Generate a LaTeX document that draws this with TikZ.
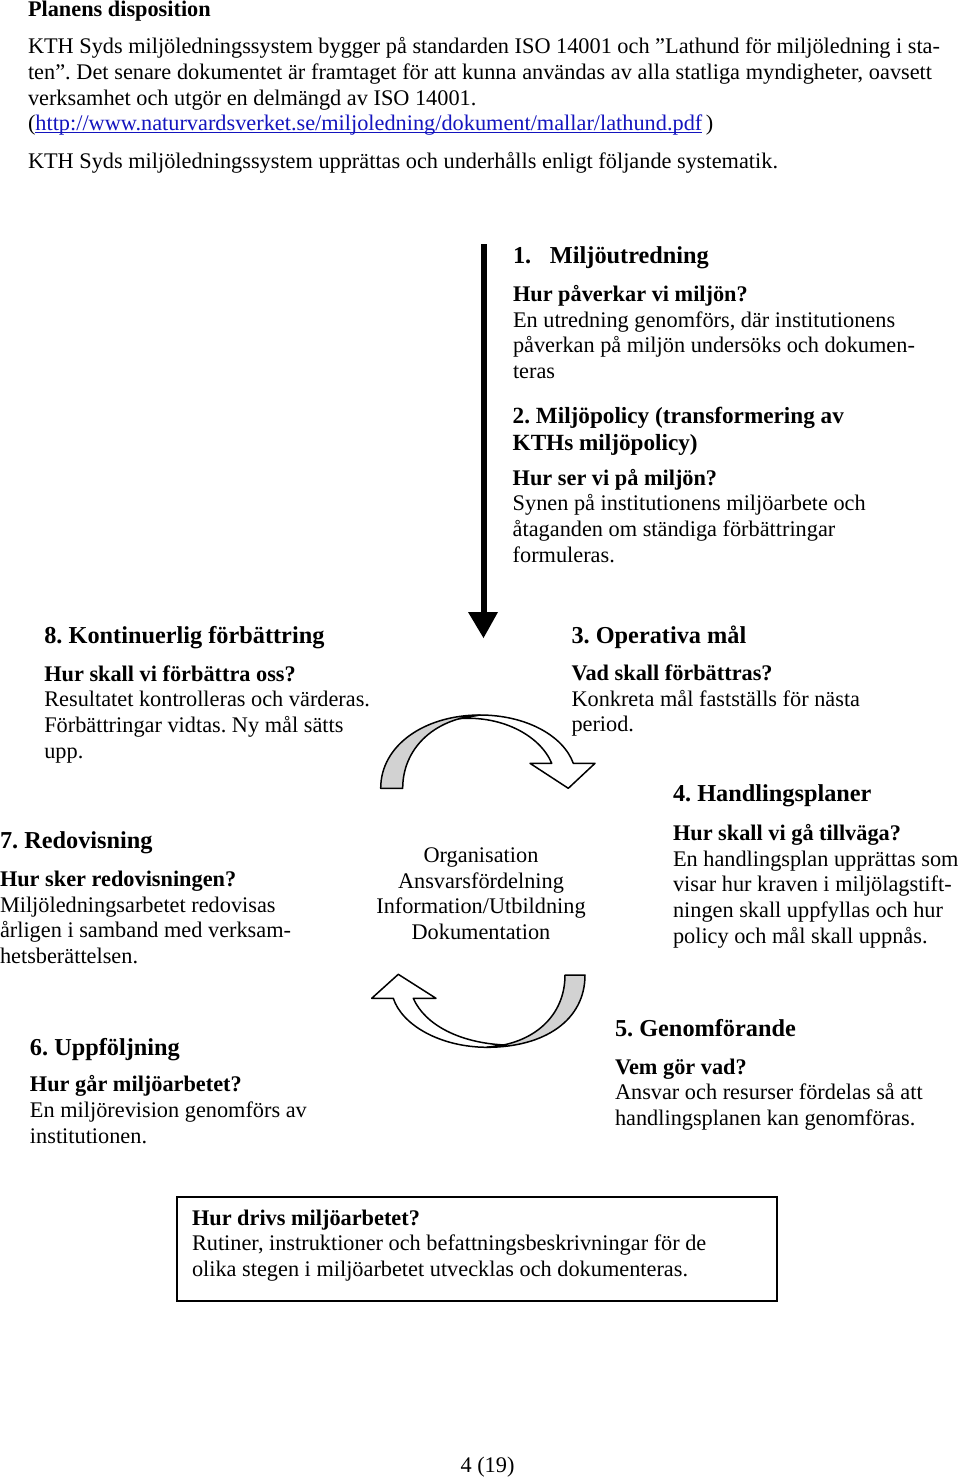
\documentclass[tikz,border=0pt]{standalone}
\usepackage{fontspec}
\setmainfont{Liberation Serif}
\frenchspacing
\definecolor{linkblue}{RGB}{20,20,190}
\definecolor{arrgray}{RGB}{210,210,210}
\newcommand\bodyfont{\fontsize{11.15pt}{12.85pt}\selectfont\frenchspacing}
\newcommand\headfont{\fontsize{12.15pt}{13.35pt}\selectfont\bfseries\frenchspacing}
\newcommand\headfontb{\fontsize{11.6pt}{13.35pt}\selectfont\bfseries\frenchspacing}
\newcommand\blk[1]{\vtop{\halign{##\hfil\cr#1\crcr}}}
\newcommand\cblk[1]{\vtop{\halign{\hfil##\hfil\cr#1\crcr}}}
\newcommand\ulink[1]{\setbox0\hbox{#1}\rlap{\rule[-1.3pt]{\wd0}{0.5pt}}\box0}
\begin{document}
\begin{tikzpicture}[x=0.5pt,y=-0.5pt,
  txt/.style={anchor=base west,inner sep=0pt,outer sep=0pt,font=\bodyfont},
  head/.style={txt,font=\headfont},
  outl/.style={draw=black,line width=0.75pt,line join=round}]
\path[use as bounding box,fill=white] (0,0) rectangle (960,1479);

% intro
\node[txt,font=\bodyfont\bfseries] (title) at (28,16.7) {Planens disposition};
\node[txt] (p1) at (28,53.3) {\hbox to 456pt{KTH Syds miljöledningssystem bygger på standarden ISO 14001 och ”Lathund för miljöledning i sta-}};
\node[txt] (p2) at (28,79.5) {\hbox to 452pt{ten”. Det senare dokumentet är framtaget för att kunna användas av alla statliga myndigheter, oavsett}};
\node[txt] (p3) at (28,105) {verksamhet och utgör en delmängd av ISO 14001.};
\node[txt] (p4) at (28,130.5) {(\textcolor{linkblue}{\ulink{http://www.naturvardsverket.se/miljoledning/dokument/mallar/lathund.pdf}}\,)};
\node[txt] (p5) at (28,168.5) {KTH Syds miljöledningssystem upprättas och underhålls enligt följande systematik.};

% vertical arrow
\fill[black] (480.5,244) rectangle (487,613);
\fill[black] (468,612) -- (498,612) -- (483.5,638) -- cycle;

% step 1
\node[head] (h1) at (513,263.3) {\makebox[18.5pt][l]{1.}Miljöutredning};
\node[txt] (b1) at (513,301.5) {\blk{\textbf{Hur påverkar vi miljön?}\cr En utredning genomförs, där institutionens\cr påverkan på miljön undersöks och dokumen-\cr teras}};
% step 2
\node[head,font=\headfontb] (h2) at (512.7,423.3) {\blk{2. Miljöpolicy (transformering av\cr KTHs miljöpolicy)}};
\node[txt] (b2) at (512.7,485) {\blk{\textbf{Hur ser vi på miljön?}\cr Synen på institutionens miljöarbete och\cr åtaganden om ständiga förbättringar\cr formuleras.}};
% step 3
\node[head] (h3) at (571.5,643.3) {3. Operativa mål};
\node[txt] (b3) at (571.5,680.5) {\blk{\textbf{Vad skall förbättras?}\cr Konkreta mål fastställs för nästa\cr period.}};
% step 8
\node[head] (h8) at (44.3,643.3) {8. Kontinuerlig förbättring};
\node[txt] (b8) at (44.3,681) {\blk{\textbf{Hur skall vi förbättra oss?}\cr Resultatet kontrolleras och värderas.\cr Förbättringar vidtas. Ny mål sätts\cr upp.}};
% step 4
\node[head] (h4) at (673,801.5) {4. Handlingsplaner};
\node[txt] (b4) at (673,840.5) {\blk{\textbf{Hur skall vi gå tillväga?}\cr En handlingsplan upprättas som\cr visar hur kraven i miljölagstift-\cr ningen skall uppfyllas och hur\cr policy och mål skall uppnås.}};
% step 7
\node[head] (h7) at (0,848) {7. Redovisning};
\node[txt] (b7) at (0,886.5) {\blk{\textbf{Hur sker redovisningen?}\cr Miljöledningsarbetet redovisas\cr årligen i samband med verksam-\cr hetsberättelsen.}};
% centre
\node[txt,anchor=base] (mid) at (481,862.5) {\cblk{Organisation\cr Ansvarsfördelning\cr Information/Utbildning\cr Dokumentation}};
% step 5
\node[head] (h5) at (615,1036.7) {5. Genomförande};
\node[txt] (b5) at (615,1074) {\blk{\textbf{Vem gör vad?}\cr Ansvar och resurser fördelas så att\cr handlingsplanen kan genomföras.}};
% step 6
\node[head] (h6) at (30,1055) {6. Uppföljning};
\node[txt] (b6) at (30,1091.7) {\blk{\textbf{Hur går miljöarbetet?}\cr En miljörevision genomförs av\cr institutionen.}};

% top curved arrow
\path[outl,fill=white] (455,719) .. controls (500,714) and (540,735) .. (551.7,763.3)
  -- (530,763.3) -- (568.3,788.3) -- (595,763.3) -- (573.3,763.3)
  .. controls (563,735) and (525,715) .. (480,715) -- cycle;
\path[outl,fill=arrgray] (380.7,788.3) .. controls (380.7,745) and (425,715) .. (480,715)
  .. controls (432,719) and (402.7,750) .. (402.7,788.3) -- cycle;

% bottom curved arrow
\path[outl,fill=white] (486.7,1047.3) .. controls (440,1047) and (402,1025) .. (393.3,998.3)
  -- (371.7,998.3) -- (398.3,974.3) -- (436,998.3) -- (413.3,998.3)
  .. controls (425,1025) and (460,1043) .. (505,1045) -- cycle;
\path[outl,fill=arrgray] (565,975) -- (585,975) .. controls (585,1020) and (545,1047.3) .. (486.7,1047.3)
  .. controls (535,1044) and (565,1015) .. (565,975) -- cycle;

% bottom box
\node[draw=black,line width=1pt,inner sep=0pt,minimum width=300pt,minimum height=52pt,anchor=north west] (box) at (176,1196) {};
\node[txt] (bt) at (192,1225) {\blk{\textbf{Hur drivs miljöarbetet?}\cr Rutiner, instruktioner och befattningsbeskrivningar för de\cr olika stegen i miljöarbetet utvecklas och dokumenteras.}};

% footer
\node[txt,anchor=base] (foot) at (487.5,1472) {4 (19)};
\end{tikzpicture}
\end{document}
